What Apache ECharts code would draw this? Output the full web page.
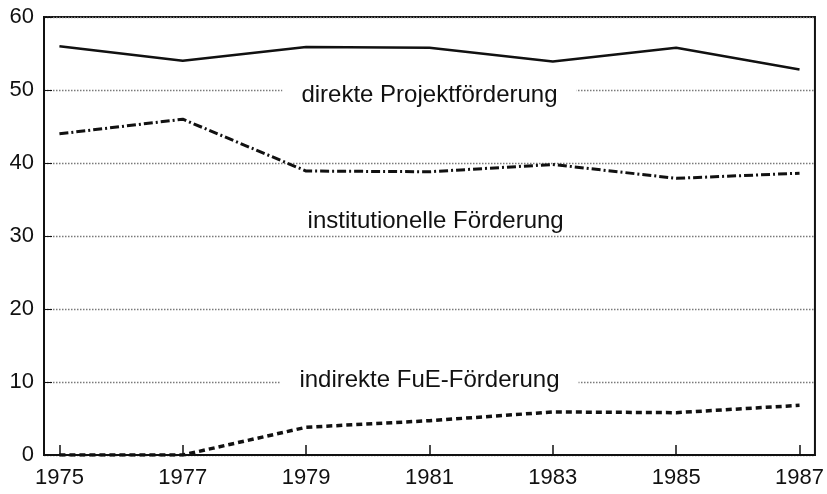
<!DOCTYPE html>
<html lang="de">
<head>
    <meta charset="UTF-8">
    <title>Förderung</title>
    <script src="https://cdn.jsdelivr.net/npm/echarts@6/dist/echarts.min.js"></script>
    <style>
        html, body { margin: 0; padding: 0; background: #fff; }
    </style>
</head>
<body>

<div id="main" style="width: 827px;height:494px;"></div>

<script type="text/javascript">
    // Jahre und Anteile (%)
    var years = [1975, 1977, 1979, 1981, 1983, 1985, 1987];
    var direkt = [56.0, 54.0, 55.9, 55.8, 53.9, 55.8, 52.8];
    var institutionell = [44.0, 46.0, 38.9, 38.8, 39.8, 37.9, 38.6];
    var indirekt = [0, 0, 3.8, 4.7, 5.9, 5.8, 6.8];
    var yTicks = [0, 10, 20, 30, 40, 50, 60];

    // Beschriftungen der Kurven: [x, y, Text]
    var labels = [
        [1981, 49.3, 'direkte Projektförderung'],
        [1981.1, 32.0, 'institutionelle Förderung'],
        [1981, 10.2, 'indirekte FuE-Förderung']
    ];
    // welche Beschriftung die Rasterlinie unterbricht
    var coversGrid = [true, false, true];

    function pairs(vals) {
        return years.map(function (y, i) { return [y, vals[i]]; });
    }

    var ink = '#111';
    var font = '"Liberation Sans", Arial, Helvetica, sans-serif';

    var myChart = echarts.init(document.getElementById('main'));

    myChart.setOption({
        animation: false,
        backgroundColor: '#fff',
        grid: {
            left: 44,
            right: 12,
            top: 17,
            bottom: 39,
            show: true,
            borderColor: ink,
            borderWidth: 2
        },
        xAxis: {
            type: 'value',
            min: 1974.75,
            max: 1987.25,
            axisLine: { lineStyle: { color: ink, width: 2 } },
            axisTick: {
                inside: true,
                length: 10,
                customValues: years,
                lineStyle: { color: ink, width: 1.5 }
            },
            axisLabel: {
                customValues: years,
                color: ink,
                fontSize: 22,
                fontFamily: font,
                margin: 12,
                formatter: function (v) { return String(v); }
            },
            splitLine: { show: false }
        },
        yAxis: {
            type: 'value',
            min: 0,
            max: 60,
            interval: 10,
            axisLine: { show: true, lineStyle: { color: ink, width: 2 } },
            axisTick: {
                show: true,
                inside: true,
                length: 8,
                lineStyle: { color: ink, width: 1 }
            },
            axisLabel: {
                color: ink,
                fontSize: 22,
                fontFamily: font,
                margin: 10,
                formatter: function (v) { return yTicks.indexOf(v) >= 0 ? String(v) : ''; }
            },
            splitLine: {
                show: true,
                lineStyle: { color: '#7a7a7a', width: 1.4, type: [1.5, 1.5] }
            }
        },
        series: [
            {
                name: 'direkte Projektförderung',
                type: 'line',
                symbol: 'none',
                data: pairs(direkt),
                lineStyle: { color: ink, width: 2.5 }
            },
            {
                name: 'institutionelle Förderung',
                type: 'line',
                symbol: 'none',
                data: pairs(institutionell),
                lineStyle: { color: ink, width: 3, type: [9, 3, 2, 3] }
            },
            {
                name: 'indirekte FuE-Förderung',
                type: 'line',
                symbol: 'none',
                data: pairs(indirekt),
                lineStyle: { color: ink, width: 3.5, type: [6, 4] }
            },
            {
                // Kurvenbeschriftung, verdeckt z.T. die Rasterlinie
                type: 'scatter',
                symbolSize: 0,
                z: 5,
                silent: true,
                itemStyle: { opacity: 1 },
                data: labels.map(function (l, i) {
                    return {
                        value: l,
                        label: { backgroundColor: coversGrid[i] ? '#fff' : 'transparent' }
                    };
                }),
                label: {
                    show: true,
                    position: 'inside',
                    formatter: function (p) { return p.value[2]; },
                    color: ink,
                    opacity: 1,
                    fontSize: 24,
                    fontFamily: font,
                    padding: [3, 19]
                }
            }
        ]
    });
</script>

</body>
</html>
